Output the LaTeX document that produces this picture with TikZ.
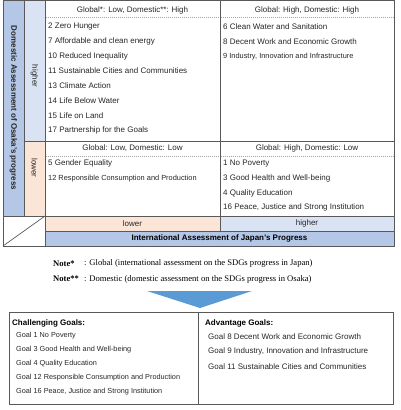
\documentclass[tikz,border=0pt]{standalone}
\usepackage{fontspec}
\setmainfont{Liberation Sans}
\newfontfamily\notefont{Liberation Serif}
\usepackage{xcolor}
\usepackage{tikz}
\usetikzlibrary{positioning}
\definecolor{sdgdeep}{HTML}{B4C7E7}
\definecolor{sdgsky}{HTML}{DAE3F3}
\definecolor{sdgpeach}{HTML}{FBE5D6}
\definecolor{sdgrule}{HTML}{595959}
\definecolor{sdgdash}{HTML}{A6A6A6}
\definecolor{sdgarrow}{HTML}{5B9BD5}
\definecolor{sdgink}{HTML}{262626}

\tikzset{
  cellhead/.style={inner sep=0pt, font=\fontsize{8}{10}\selectfont, text=sdgink},
  goalitem/.style={anchor=west, inner sep=0pt, font=\fontsize{8}{10}\selectfont, text=sdgink},
  goalnarrow/.style={anchor=west, inner sep=0pt, font=\fontsize{7.4}{9}\selectfont, text=sdgink},
  goalsmall/.style={anchor=west, inner sep=0pt, font=\fontsize{7.3}{9}\selectfont, text=sdgink},
  goalhead/.style={anchor=west, inner sep=0pt, font=\bfseries\fontsize{8}{10}\selectfont, text=black},
  notekey/.style={anchor=west, inner sep=0pt, font=\notefont\bfseries\fontsize{8.6}{10}\selectfont},
  notetext/.style={anchor=west, inner sep=0pt, font=\notefont\fontsize{8.6}{10}\selectfont},
  rule/.style={sdgrule, line width=0.7pt},
  headrule/.style={sdgdash, line width=0.5pt, dash pattern=on 1pt off 1pt}
}

\begin{document}
\begin{tikzpicture}[x=1pt,y=-1pt]
  \useasboundingbox (0,0) rectangle (400,410);

  % shaded bands
  \fill[sdgdeep] (3,0.5) rectangle (24,216);
  \fill[sdgsky] (24,0.5) rectangle (45,141);
  \fill[sdgpeach] (24,141) rectangle (45,216);
  \fill[sdgpeach] (45,216) rectangle (220,231);
  \fill[sdgsky] (220,216) rectangle (394,231);
  \fill[sdgdeep] (45,231) rectangle (394,246);

  % grid
  \draw[rule] (3,0.5) rectangle (394,246);
  \draw[rule] (24,0.5) -- (24,216);
  \draw[rule] (45,0.5) -- (45,246);
  \draw[rule] (220,0.5) -- (220,231);
  \draw[rule] (24,141) -- (394,141);
  \draw[rule] (3,216) -- (394,216);
  \draw[rule] (45,231) -- (394,231);
  \draw[rule] (3,246) -- (45,216);
  \foreach \y in {17,156} {
    \draw[headrule] (45.5,\y) -- (219.5,\y);
    \draw[headrule] (220.5,\y) -- (393.5,\y);
  }

  % axis labels
  \node[rotate=-90, inner sep=0pt, font=\bfseries\fontsize{8}{10}\selectfont, text=sdgink] (domaxis) at (13.5,108) {Domestic Assessment of Osaka's progress};
  \node[rotate=-90, cellhead] (domhigh) at (34.5,76) {higher};
  \node[rotate=-90, cellhead] (domlow) at (34.5,168) {lower};
  \node[cellhead] (intlow) at (132.5,223.5) {lower};
  \node[cellhead] (inthigh) at (307,223.5) {higher};
  \node[inner sep=0pt, font=\bfseries\fontsize{8}{10}\selectfont, text=black] (intaxis) at (219.5,238.5) {International Assessment of Japan's Progress};

  % quadrant heads
  \node[cellhead] (headLH) at (132.5,10) {Global*: Low, Domestic**: High};
  \node[cellhead] (headHH) at (307,10) {Global: High, Domestic: High};
  \node[cellhead] (headLL) at (132.5,148.5) {Global: Low, Domestic: Low};
  \node[cellhead] (headHL) at (307,148.5) {Global: High, Domestic: Low};

  % quadrant goals
  \foreach \g [count=\i] in {2 Zero Hunger, 7 Affordable and clean energy, 10 Reduced Inequality,
      11 Sustainable Cities and Communities, 13 Climate Action, 14 Life Below Water,
      15 Life on Land, 17 Partnership for the Goals}
    \node[goalitem] (goalLH\i) at (48,{26.5+14.8*(\i-1)}) {\g};
  \node[goalitem] (goalHH1) at (223,26.5) {6 Clean Water and Sanitation};
  \node[goalitem] (goalHH2) at (223,41.3) {8 Decent Work and Economic Growth};
  \node[goalnarrow] (goalHH3) at (223,56.1) {9 Industry, Innovation and Infrastructure};
  \node[goalitem] (goalLL1) at (48,163.5) {5 Gender Equality};
  \node[goalnarrow] (goalLL2) at (48,178.3) {12 Responsible Consumption and Production};
  \foreach \g [count=\i] in {1 No Poverty, 3 Good Health and Well-being, 4 Quality Education,
      {16 Peace, Justice and Strong Institution}}
    \node[goalitem] (goalHL\i) at (223,{163.5+14.8*(\i-1)}) {\g};

  % notes
  \node[notekey] (notekeyA) at (53,263.5) {Note*};
  \node[notetext] (notetextA) at (84,263.5) {: Global (international assessment on the SDGs progress in Japan)};
  \node[notekey] (notekeyB) at (53,279) {Note**};
  \node[notetext] (notetextB) at (84,279) {: Domestic (domestic assessment on the SDGs progress in Osaka)};

  % down arrow
  \fill[sdgarrow] (147,291) -- (252,291) -- (200,308) -- cycle;

  % summary boxes
  \draw[sdgrule, line width=0.6pt] (9,312) rectangle (198,404);
  \draw[sdgrule, line width=0.6pt] (198,312) rectangle (393,404);
  \node[goalhead] (chalhead) at (12,323.5) {Challenging Goals:};
  \foreach \g [count=\i] in {Goal 1 No Poverty, Goal 3 Good Health and Well-being, Goal 4 Quality Education,
      Goal 12 Responsible Consumption and Production, {Goal 16 Peace, Justice and Strong Institution}}
    \node[goalsmall] (chal\i) at (16,{335.5+14*(\i-1)}) {\g};
  \node[goalhead] (advhead) at (205,323.5) {Advantage Goals:};
  \foreach \g [count=\i] in {Goal 8 Decent Work and Economic Growth,
      {Goal 9 Industry, Innovation and Infrastructure}, Goal 11 Sustainable Cities and Communities}
    \node[goalitem] (adv\i) at (208,{337+14.6*(\i-1)}) {\g};
\end{tikzpicture}
\end{document}
